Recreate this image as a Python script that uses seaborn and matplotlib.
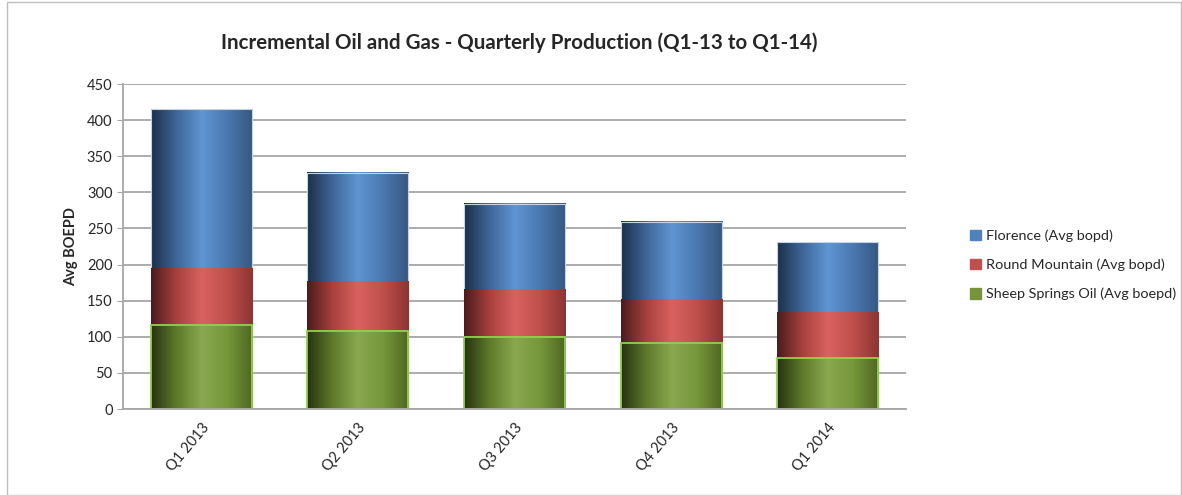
import matplotlib
matplotlib.use("Agg")
import matplotlib.pyplot as plt
import matplotlib.patches as mpatches
from matplotlib.colors import LinearSegmentedColormap
import numpy as np
import pandas as pd
import seaborn as sns

quarters = ["Q1 2013", "Q2 2013", "Q3 2013", "Q4 2013", "Q1 2014"]
sheep_springs = [116, 108, 100, 91, 71]
round_mountain = [79, 68, 65, 61, 63]
florence = [220, 151, 119, 107, 97]

series_names = ["Florence (Avg bopd)", "Round Mountain (Avg bopd)", "Sheep Springs Oil (Avg boepd)"]

sns.set_style("white")
plt.rcParams["font.family"] = ["Lato", "DejaVu Sans"]

df = pd.DataFrame({
    "Quarter": quarters,
    "green": sheep_springs,
    "red": np.array(sheep_springs) + np.array(round_mountain),
    "blue": np.array(sheep_springs) + np.array(round_mountain) + np.array(florence),
})

gradients = {
    "blue": ["#1c2f48", "#3f6699", "#5f95d3", "#4a78b0", "#36577f"],
    "red": ["#4a1c1c", "#a8403d", "#d9625f", "#bf4f4b", "#8c3532"],
    "green": ["#26330f", "#5e7a2a", "#8aa84f", "#76973a", "#4f6622"],
}
flat = {"blue": "#4f81bd", "red": "#c0504d", "green": "#77933c"}
edges = {"blue": "#c5d3e6", "red": None, "green": "#92d050"}

fig = plt.figure(figsize=(11.82, 4.95), dpi=100)
ax = fig.add_axes([0.104, 0.1737, 0.6625, 0.6566])

for key in ["blue", "red", "green"]:
    sns.barplot(data=df, x="Quarter", y=key, color=flat[key], width=0.645,
                saturation=1, ax=ax, linewidth=0)

ax.set_ylim(0, 450)
ax.set_xlim(-0.5, 4.5)
ax.set_yticks(range(0, 451, 50))

# horizontal gradient fill on every bar
order = ["blue"] * 5 + ["red"] * 5 + ["green"] * 5
layer = {"blue": 0.0, "red": 0.05, "green": 0.1}
grad_x = np.linspace(0, 1, 256).reshape(1, -1)
for patch, key in zip(list(ax.patches[:15]), order):
    x0, y0 = patch.get_x(), patch.get_y()
    w, h = patch.get_width(), patch.get_height()
    patch.set_visible(False)
    cmap = LinearSegmentedColormap.from_list(key, gradients[key])
    z = 1 + layer[key]
    ax.imshow(grad_x, cmap=cmap, extent=[x0, x0 + w, y0, y0 + h],
              aspect="auto", zorder=z + 0.01)
    if edges[key]:
        ax.add_patch(mpatches.Rectangle((x0, y0), w, h, fill=False, edgecolor=edges[key],
                                        linewidth=0.8 if key == "blue" else 1.3, zorder=z + 0.02))

ax.set_xlim(-0.5, 4.5)
ax.set_ylim(0, 450)
ax.set_axisbelow(True)
ax.yaxis.grid(True, color="#a6a6a6", linewidth=1.3)
for s in ["top", "right"]:
    ax.spines[s].set_visible(False)
ax.spines["left"].set_color("#a6a6a6")
ax.spines["bottom"].set_color("#a6a6a6")
ax.spines["left"].set_linewidth(1.3)
ax.spines["bottom"].set_linewidth(1.3)
ax.tick_params(axis="y", labelsize=10.5, length=4, color="#a6a6a6", left=True)
ax.tick_params(axis="x", labelsize=10.5, length=0, pad=8)
plt.setp(ax.get_xticklabels(), rotation=50, ha="right", rotation_mode="anchor")
ax.set_xlabel("")
ax.set_ylabel("Avg BOEPD", fontsize=10.5, fontweight="bold", labelpad=6)

fig.suptitle("Incremental Oil and Gas - Quarterly Production (Q1-13 to Q1-14)",
             x=0.439, y=0.935, fontsize=14.8, fontweight="bold")

handles = [mpatches.Patch(facecolor=flat[k], edgecolor=flat[k]) for k in ["blue", "red", "green"]]
fig.legend(handles, series_names, loc="center left", bbox_to_anchor=(0.821, 0.465),
           frameon=False, fontsize=10.4, handlelength=0.75, handleheight=0.75,
           handletextpad=0.3, labelspacing=1.15, borderaxespad=0, borderpad=0)

fig.add_artist(mpatches.Rectangle((0.006, 0.0), 0.993, 0.995, transform=fig.transFigure,
                                  fill=False, edgecolor="#bfbfbf", linewidth=1))

fig.savefig("out.png", dpi=100)
